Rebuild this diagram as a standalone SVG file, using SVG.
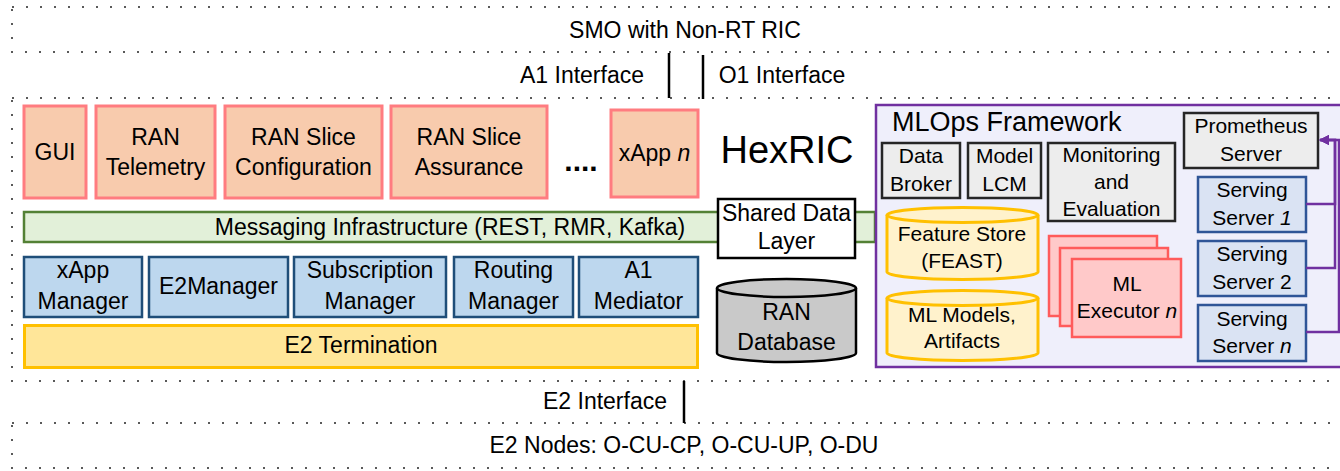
<svg xmlns="http://www.w3.org/2000/svg" width="1340" height="471" viewBox="0 0 1340 471">
<defs>
<style>
text{font-family:"Liberation Sans",Arial,sans-serif;font-size:23px;fill:#000;text-anchor:middle}
.sm{font-size:21px}
.dot{fill:none;stroke:#595959;stroke-width:2;stroke-dasharray:2 12}
.app{fill:#F8CBAD;stroke:#FF7C80;stroke-width:3}
.mgr{fill:#BDD7EE;stroke:#1F4E79;stroke-width:2.5}
.gray{fill:#EDEDED;stroke:#262626;stroke-width:2.5}
.srv{fill:#DAE3F3;stroke:#2F5597;stroke-width:2.5}
.store{fill:#FFF2CC;stroke:#FFC000;stroke-width:3}
.exec{fill:#FFC9C9;stroke:#FF5B5B;stroke-width:2.5}
.iface{stroke:#000;stroke-width:2.5}
.conn{fill:none;stroke:#7030A0;stroke-width:2.5}
</style>
<marker id="arr" markerUnits="userSpaceOnUse" markerWidth="10" markerHeight="10" refX="9" refY="5" orient="auto">
<path d="M0,0 L10,5 L0,10 z" fill="#7030A0"/>
</marker>
</defs>
<rect width="1340" height="471" fill="#fff"/>

<g id="frames">
<rect class="dot" x="12" y="7" width="1350" height="45"/>
<rect class="dot" x="12" y="98" width="1350" height="283"/>
<rect class="dot" x="12" y="423" width="1350" height="45"/>
</g>

<g id="smo"><text x="685" y="38">SMO with Non-RT RIC</text></g>
<g id="e2nodes"><text x="684" y="453">E2 Nodes: O-CU-CP, O-CU-UP, O-DU</text></g>

<g id="interfaces">
<line class="iface" x1="669" y1="53" x2="669" y2="98"/>
<line class="iface" x1="703" y1="55" x2="703" y2="99"/>
<line class="iface" x1="684" y1="381" x2="684" y2="423"/>
<text x="582" y="83">A1 Interface</text>
<text x="782" y="83">O1 Interface</text>
<text x="605" y="409">E2 Interface</text>
</g>

<g id="gui"><rect class="app" x="24" y="106" width="62" height="92"/><text x="55" y="160">GUI</text></g>
<g id="ran-telemetry"><rect class="app" x="96" y="106" width="119" height="92"/><text x="155.5" y="145">RAN</text><text x="155.5" y="175">Telemetry</text></g>
<g id="ran-slice-config"><rect class="app" x="225" y="106" width="157" height="92"/><text x="303.5" y="145">RAN Slice</text><text x="303.5" y="175">Configuration</text></g>
<g id="ran-slice-assurance"><rect class="app" x="391" y="106" width="156" height="92"/><text x="469" y="145">RAN Slice</text><text x="469" y="175">Assurance</text></g>
<g id="ellipsis"><text x="581" y="171" style="font-size:30px;font-weight:bold">....</text></g>
<g id="xapp-n"><rect class="app" x="611" y="110" width="87" height="87"/><text x="654.5" y="161">xApp <tspan font-style="italic">n</tspan></text></g>
<g id="hexric"><text x="787" y="163" style="font-size:38px">HexRIC</text></g>

<g id="messaging"><rect x="24" y="212" width="851" height="30" fill="#E2F0D9" stroke="#538135" stroke-width="2.5"/><text x="450" y="235">Messaging Infrastructure (REST, RMR, Kafka)</text></g>

<g id="xapp-manager"><rect class="mgr" x="24" y="257" width="118" height="60"/><text x="83" y="278">xApp</text><text x="83" y="309">Manager</text></g>
<g id="e2manager"><rect class="mgr" x="149" y="257" width="139" height="60"/><text x="218.5" y="294">E2Manager</text></g>
<g id="subscription-manager"><rect class="mgr" x="294" y="257" width="152" height="60"/><text x="370" y="278">Subscription</text><text x="370" y="309">Manager</text></g>
<g id="routing-manager"><rect class="mgr" x="454" y="257" width="119" height="60"/><text x="513.5" y="278">Routing</text><text x="513.5" y="309">Manager</text></g>
<g id="a1-mediator"><rect class="mgr" x="579" y="257" width="119" height="60"/><text x="638.5" y="278">A1</text><text x="638.5" y="309">Mediator</text></g>

<g id="e2-termination"><rect x="24.5" y="325.5" width="673" height="42" fill="#FFE699" stroke="#FFC000" stroke-width="3"/><text x="361" y="353">E2 Termination</text></g>

<g id="shared-data-layer"><rect x="718" y="199" width="137" height="59" fill="#fff" stroke="#000" stroke-width="2.5"/><text x="786.5" y="221">Shared Data</text><text x="786.5" y="249">Layer</text></g>

<g id="ran-database">
<path d="M717,288 A69.5,9 0 0 1 856,288 V353 A69.5,9 0 0 1 717,353 Z" fill="#C9C9C9" stroke="#000" stroke-width="2.5"/>
<path d="M717,288 A69.5,9 0 0 0 856,288" fill="none" stroke="#000" stroke-width="2.5"/>
<text x="786.5" y="320">RAN</text><text x="786.5" y="350">Database</text>
</g>

<g id="mlops">
<rect x="876" y="105" width="480" height="262" fill="#EFEFFB" stroke="#7030A0" stroke-width="2.5"/>
<text x="892" y="131" style="font-size:27px;text-anchor:start">MLOps Framework</text>
</g>

<g id="data-broker"><rect class="gray" x="882" y="143" width="78" height="55"/><text class="sm" x="921" y="163">Data</text><text class="sm" x="921" y="191">Broker</text></g>
<g id="model-lcm"><rect class="gray" x="968" y="143" width="73" height="55"/><text class="sm" x="1004.5" y="163">Model</text><text class="sm" x="1004.5" y="191">LCM</text></g>
<g id="monitoring"><rect class="gray" x="1048" y="143" width="127" height="78"/><text class="sm" x="1111.5" y="162">Monitoring</text><text class="sm" x="1111.5" y="189">and</text><text class="sm" x="1111.5" y="216">Evaluation</text></g>
<g id="prometheus"><rect class="gray" x="1184" y="113" width="134" height="55"/><text class="sm" x="1251" y="133">Prometheus</text><text class="sm" x="1251" y="161">Server</text></g>

<g id="serving-1"><rect class="srv" x="1198" y="177" width="108" height="55"/><text class="sm" x="1252" y="197">Serving</text><text class="sm" x="1252" y="225">Server <tspan font-style="italic">1</tspan></text></g>
<g id="serving-2"><rect class="srv" x="1198" y="241" width="108" height="55"/><text class="sm" x="1252" y="261">Serving</text><text class="sm" x="1252" y="289">Server 2</text></g>
<g id="serving-n"><rect class="srv" x="1198" y="305" width="108" height="56"/><text class="sm" x="1252" y="326">Serving</text><text class="sm" x="1252" y="353">Server <tspan font-style="italic">n</tspan></text></g>

<g id="feature-store">
<path d="M887,215 A75.5,7.5 0 0 1 1038,215 V272 A75.5,7.5 0 0 1 887,272 Z" class="store"/>
<path d="M887,215 A75.5,7.5 0 0 0 1038,215" fill="none" stroke="#FFC000" stroke-width="3"/>
<text class="sm" x="962" y="241">Feature Store</text><text class="sm" x="962" y="268">(FEAST)</text>
</g>
<g id="ml-models">
<path d="M887,298 A75.5,7.5 0 0 1 1038,298 V353 A75.5,7.5 0 0 1 887,353 Z" class="store"/>
<path d="M887,298 A75.5,7.5 0 0 0 1038,298" fill="none" stroke="#FFC000" stroke-width="3"/>
<text class="sm" x="962" y="322">ML Models,</text><text class="sm" x="962" y="348">Artifacts</text>
</g>

<g id="ml-executor">
<rect class="exec" x="1049" y="236" width="108" height="80"/>
<rect class="exec" x="1060" y="248" width="108" height="78"/>
<rect class="exec" x="1072" y="259" width="109" height="78"/>
<text class="sm" x="1127" y="291">ML</text><text class="sm" x="1127" y="318">Executor <tspan font-style="italic">n</tspan></text>
</g>

<g id="connectors">
<path class="conn" d="M1306,204 H1335 V140 H1320" marker-end="url(#arr)"/>
<path class="conn" d="M1306,268 H1335 V140 H1320" marker-end="url(#arr)"/>
<path class="conn" d="M1306,332 H1339 V140 H1320" marker-end="url(#arr)"/>
</g>
</svg>
